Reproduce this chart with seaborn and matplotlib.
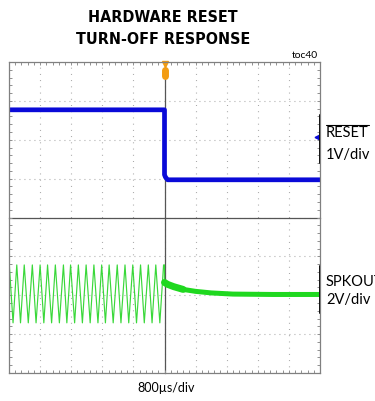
import numpy as np
import pandas as pd
import matplotlib.pyplot as plt
from matplotlib.lines import Line2D
import seaborn as sns

sns.set_style('white')
plt.rcParams['font.family'] = ['Lato', 'DejaVu Sans']
plt.rcParams['text.color'] = 'black'

# scope screen: 10 x 8 divisions
# RESET trace (1V/div), in divisions
reset_x = [0.0, 5.0, 5.0, 5.03, 5.1, 10.0]
reset_y = [6.77, 6.77, 5.10, 5.04, 4.97, 4.97]
reset_gnd = 6.07

# SPKOUT before reset: peak / trough positions
spk_peak_x = [0.01, 0.25, 0.49, 0.75, 1.00, 1.24, 1.49, 1.75, 1.98, 2.23, 2.48,
              2.73, 2.98, 3.22, 3.48, 3.73, 3.98, 4.23, 4.48, 4.72, 4.97]
spk_trough_x = [0.13, 0.37, 0.62, 0.87, 1.12, 1.37, 1.62, 1.86, 2.11, 2.36,
                2.61, 2.86, 3.10, 3.35, 3.60, 3.85, 4.10, 4.35, 4.60, 4.85]
spk_high = 2.78
spk_low = 1.29

# SPKOUT after reset (decay)
decay_x = [5.0, 5.1, 5.3, 5.6, 6.0, 6.5, 7.2, 8.5, 10.0]
decay_y = [2.33, 2.28, 2.22, 2.15, 2.10, 2.06, 2.03, 2.02, 2.02]

BLUE = '#0a0ad8'
GREEN = '#1fd81f'
SINE_GREEN = '#3ad83a'
ORANGE = '#f39c12'

# interleave peaks and troughs into one polyline
sine_x, sine_y = [], []
for i, px in enumerate(spk_peak_x):
    sine_x.append(px)
    sine_y.append(spk_high)
    if i < len(spk_trough_x):
        sine_x.append(spk_trough_x[i])
        sine_y.append(spk_low)
sine_x += [5.0, 5.0]
sine_y += [spk_high, decay_y[0]]

W, H = 375, 401
fig = plt.figure(figsize=(W / 100, H / 100), dpi=100)
rect = [9 / W, 1 - 373 / H, 311 / W, 311 / H]

# centre cross-hair with small ticks
axc = fig.add_axes(rect)
axc.set_xlim(0, 10)
axc.set_ylim(0, 8)
for s in ['top', 'right']:
    axc.spines[s].set_visible(False)
axc.spines['left'].set_position(('data', 5))
axc.spines['bottom'].set_position(('data', 4))
for s in ['left', 'bottom']:
    axc.spines[s].set_color('#555555')
    axc.spines[s].set_linewidth(0.9)
axc.set_xticks(np.arange(0, 10.01, 1))
axc.set_yticks(np.arange(0, 8.01, 1))
axc.set_xticks(np.arange(0, 10.01, 0.2), minor=True)
axc.set_yticks(np.arange(0, 8.01, 0.2), minor=True)
axc.tick_params(which='both', direction='inout', length=3.5, width=0.8,
                color='#666666', labelbottom=False, labelleft=False)
axc.grid(axis='x', color='#a0a0a0', lw=0.8, ls=(0, (0.8, 4.8)))
axc.grid(axis='y', color='#a0a0a0', lw=0.8, ls=(0, (0.8, 3.7)))

# main axes with traces and border
ax = fig.add_axes(rect, facecolor='none')
ax.set_xlim(0, 10)
ax.set_ylim(0, 8)
for s in ax.spines.values():
    s.set_color('#808080')
    s.set_linewidth(0.9)
ax.set_xticks([])
ax.set_yticks([])
ax.set_xticks(np.arange(0, 10.01, 0.2), minor=True)
ax.set_yticks(np.arange(0, 8.01, 0.2), minor=True)
ax.tick_params(which='minor', direction='in', length=2.5, width=0.7,
               color='#909090', top=True, right=True, bottom=True, left=True,
               labelbottom=False, labelleft=False)

sns.lineplot(x=sine_x, y=sine_y, sort=False, estimator=None, ax=ax,
             color=SINE_GREEN, lw=0.85)
sns.lineplot(x=decay_x, y=decay_y, sort=False, estimator=None, ax=ax,
             color=GREEN, lw=3.6)
sns.lineplot(x=decay_x[:4], y=decay_y[:4], sort=False, estimator=None, ax=ax,
             color=GREEN, lw=5)
sns.lineplot(x=reset_x, y=reset_y, sort=False, estimator=None, ax=ax,
             color=BLUE, lw=3.4)

# trigger marker
ax.plot([5, 5], [7.65, 7.80], color=ORANGE, lw=5, solid_capstyle='round', clip_on=False)
ax.plot(5, 7.96, marker='v', color=ORANGE, ms=5, clip_on=False)
# ground marker and scale brackets
ax.plot(9.9, reset_gnd, marker='<', color=BLUE, ms=3.5, clip_on=False)
ax.plot([10, 10], [5.40, 6.64], color='black', lw=1.4, clip_on=False)
ax.plot([10, 10], [1.54, 2.76], color='black', lw=1.4, clip_on=False)


def px(x, y):
    return x / W, 1 - y / H


title_font = dict(family=['DejaVu Sans'], stretch='condensed', weight='bold',
                  fontsize=11.5, ha='center', va='baseline')
fig.text(*px(163, 22), 'HARDWARE RESET', **title_font)
fig.text(*px(163, 44), 'TURN-OFF RESPONSE', **title_font)
fig.text(*px(318, 57.5), 'toc40', fontsize=7.5, ha='right', va='baseline')

fig.text(*px(326, 137), 'RESET', fontsize=10.5, va='baseline')
fig.add_artist(Line2D([326 / W, 369 / W], [1 - 124.5 / H] * 2, color='black', lw=0.8))
fig.text(*px(326, 159), '1V/div', fontsize=10.5, va='baseline')
fig.text(*px(326, 286), 'SPKOUT', fontsize=10.5, va='baseline')
fig.text(*px(326, 304), '2V/div', fontsize=10.5, va='baseline')
fig.text(*px(166, 392), '800µs/div', fontsize=9, ha='center', va='baseline')

fig.savefig('out.png', dpi=100)
